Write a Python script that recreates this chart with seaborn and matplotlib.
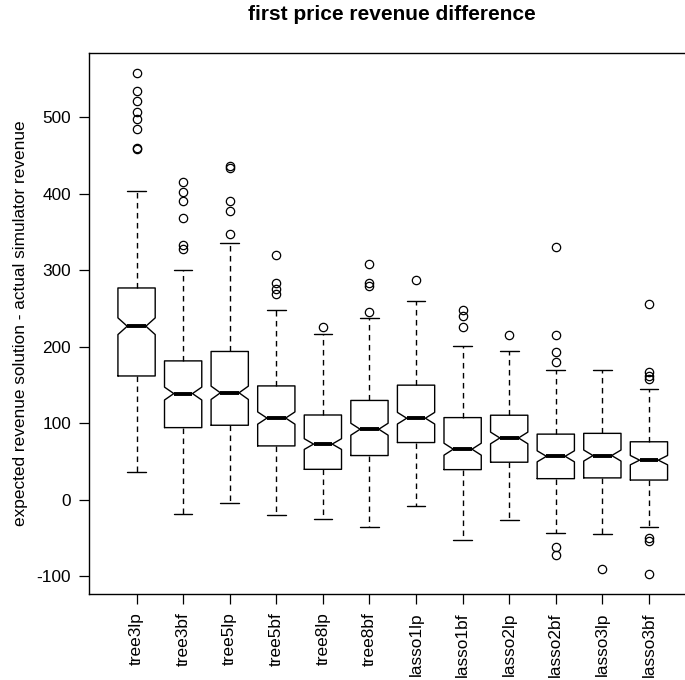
import matplotlib
matplotlib.use("Agg")
import matplotlib.pyplot as plt
import seaborn as sns

# box statistics
categories = ["tree3lp", "tree3bf", "tree5lp", "tree5bf", "tree8lp", "tree8bf",
              "lasso1lp", "lasso1bf", "lasso2lp", "lasso2bf", "lasso3lp", "lasso3bf"]
whisk_lo = [36.6, -18.7, -4.3, -19.6, -24.4, -35.7, -8.2, -53.0, -26.5, -43.5, -44.8, -35.7]
q1 = [162, 94.5, 97.6, 70.6, 40, 58, 75, 39.6, 49.3, 27.8, 28.8, 26]
median = [227, 139, 140, 107, 73, 92.4, 106.8, 66.3, 81, 57, 58, 52]
q3 = [277, 181.7, 194, 149, 111, 130, 150, 107.6, 110.7, 86, 87, 76]
whisk_hi = [404, 301, 335.5, 248, 216.6, 237.5, 260.5, 201.5, 195, 170, 169.5, 145]
notch_half = [10.9, 8.4, 8.7, 8.0, 7.0, 7.8, 7.6, 7.8, 7.6, 7.2, 7.2, 6.1]
outliers = [
    [557.8, 535, 521.6, 507.6, 497.6, 484.9, 459.5, 459.0],
    [416, 402, 390, 369, 333, 328],
    [437, 433.5, 390, 378, 348],
    [320, 284, 275, 269],
    [226.5],
    [308, 284, 279.7, 245],
    [287],
    [248, 241, 226.5],
    [215.3],
    [330, 215.7, 193, 180, -61.4, -72.3],
    [-89.8],
    [256, 166.9, 162.5, 158.6, -49.7, -54, -96.7],
]

sns.set_theme(style="white")
plt.rcParams["font.family"] = ["Liberation Sans", "DejaVu Sans"]
plt.rcParams["axes.unicode_minus"] = False
plt.rcParams["text.color"] = "black"
plt.rcParams["axes.labelcolor"] = "black"
plt.rcParams["xtick.color"] = "black"
plt.rcParams["ytick.color"] = "black"

stats = []
for i, name in enumerate(categories):
    stats.append({
        "label": name,
        "whislo": whisk_lo[i],
        "q1": q1[i],
        "med": median[i],
        "q3": q3[i],
        "whishi": whisk_hi[i],
        "cilo": median[i] - notch_half[i],
        "cihi": median[i] + notch_half[i],
        "fliers": outliers[i],
    })

fig = plt.figure(figsize=(6.85, 6.8), dpi=100)
ax = fig.add_axes([0.130, 0.1265, 0.884, 0.7955])

ax.bxp(
    stats,
    positions=range(1, len(categories) + 1),
    widths=0.8,
    capwidths=0.4,
    shownotches=True,
    boxprops=dict(color="black", linewidth=1.0),
    whiskerprops=dict(color="black", linewidth=1.0, linestyle=(0, (4, 3.2))),
    capprops=dict(color="black", linewidth=1.0),
    medianprops=dict(color="black", linewidth=2.8, solid_capstyle="butt"),
    flierprops=dict(marker="o", markerfacecolor="none", markeredgecolor="black",
                    markersize=6, markeredgewidth=0.9),
)

ax.set_xlim(-0.02, 12.98)
ax.set_ylim(-122.9, 584)
ax.set_yticks([-100, 0, 100, 200, 300, 400, 500])
ax.set_xticks(range(1, len(categories) + 1))
ax.set_xticklabels(categories, rotation=90)
ax.tick_params(axis="both", which="major", direction="out", length=7, width=0.9,
               pad=6, labelsize=12.4, labelcolor="black", color="black",
               left=True, bottom=True)
for spine in ax.spines.values():
    spine.set_visible(True)
    spine.set_color("black")
    spine.set_linewidth(1.0)

ax.set_ylabel("expected revenue solution - actual simulator revenue",
              fontsize=12.4, color="black")
ax.yaxis.set_label_coords(-0.100, 0.5)
ax.set_title("first price revenue difference", fontsize=15, fontweight="bold",
             color="black", pad=24)

fig.savefig("out.png", dpi=100)
